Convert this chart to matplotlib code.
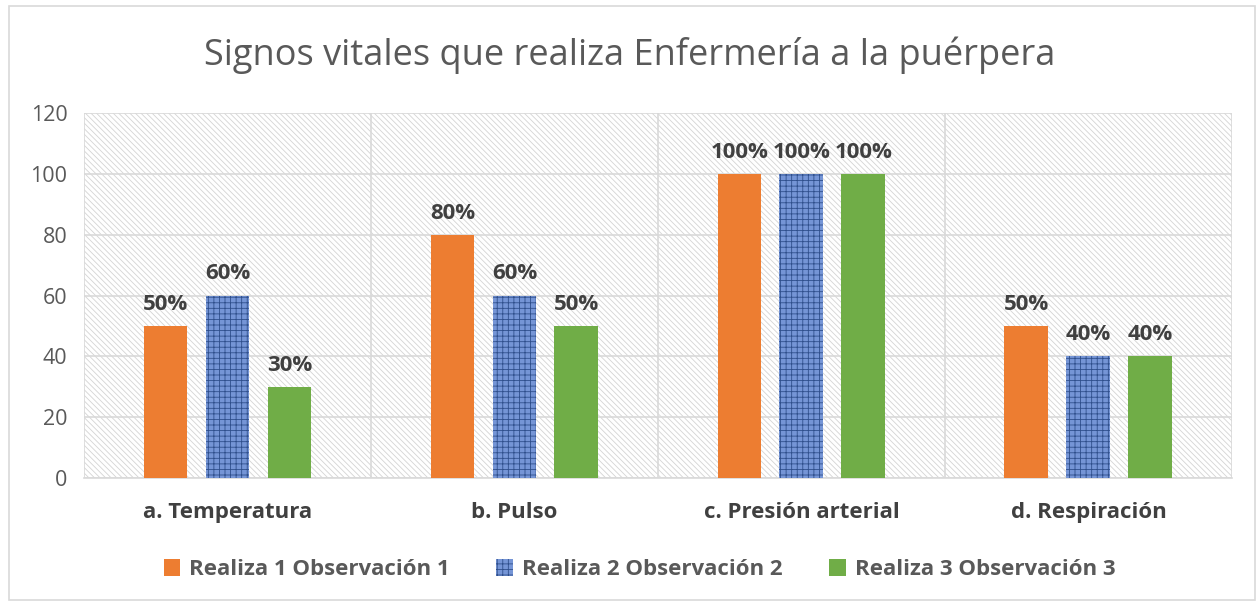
import numpy as np
import matplotlib.pyplot as plt
from matplotlib.patches import Rectangle

plt.rcParams['font.family'] = ['Open Sans', 'DejaVu Sans']
plt.rcParams['hatch.linewidth'] = 0.6

categorias = ['a. Temperatura', 'b. Pulso', 'c. Presión arterial', 'd. Respiración']
series = ['Realiza 1 Observación 1', 'Realiza 2 Observación 2', 'Realiza 3 Observación 3']
obs1 = [50, 80, 100, 50]
obs2 = [60, 60, 100, 40]
obs3 = [30, 50, 100, 40]
yticks = [0, 20, 40, 60, 80, 100, 120]

fig = plt.figure(figsize=(12.59, 6.03), dpi=100)
ax = fig.add_axes([0.0667, 0.2073, 0.9118, 0.6053])

# fondo rayado del área de trazado
ax.patch.set_facecolor('white')
ax.patch.set_hatch('\\\\\\\\\\\\')
ax.patch.set_edgecolor('#d4d4d4')

x = np.arange(len(categorias))
w = 0.153
step = 0.216
estilos = [
    dict(color='#ED7D31'),
    dict(facecolor='#7595D6', hatch='+++', edgecolor='#2F4F8C', linewidth=0),
    dict(color='#70AD47'),
]
for i, (vals, st) in enumerate(zip([obs1, obs2, obs3], estilos)):
    bars = ax.bar(x + (i - 1) * step, vals, w, label=series[i], zorder=3, **st)
    for b, v in zip(bars, vals):
        ax.annotate(f'{v}%', (b.get_x() + b.get_width() / 2, v),
                    xytext=(0, 8), textcoords='offset points',
                    ha='center', va='bottom', fontsize=16, fontweight='bold',
                    color='#404040', zorder=4)

ax.set_xlim(-0.5, len(categorias) - 0.5)
ax.set_ylim(0, 120)
ax.set_yticks(yticks)
ax.set_xticks(x)
ax.set_xticklabels(categorias, fontsize=16, fontweight='bold', color='#404040')
ax.tick_params(axis='y', labelsize=15.5, labelcolor='#595959', length=0, pad=12)
ax.tick_params(axis='x', length=0, pad=17)
ax.set_xticks(np.arange(len(categorias) + 1) - 0.5, minor=True)
ax.tick_params(axis='x', which='minor', length=0)
ax.grid(axis='y', color='#d9d9d9', linewidth=1.2, zorder=1)
ax.grid(axis='x', which='minor', color='#d9d9d9', linewidth=1.2, zorder=1)
ax.grid(axis='x', which='major', visible=False)
for s in ['top', 'right', 'left']:
    ax.spines[s].set_visible(False)
ax.spines['bottom'].set_color('#d9d9d9')
ax.spines['bottom'].set_linewidth(1.2)
ax.set_axisbelow(True)

fig.suptitle('Signos vitales que realiza Enfermería a la puérpera', y=0.94,
             fontsize=26, color='#595959')

leg = fig.legend(loc='center', bbox_to_anchor=(0.508, 0.055), ncol=3, frameon=False,
                 prop={'size': 16, 'weight': 'bold'}, handlelength=0.75, handleheight=0.75,
                 columnspacing=2.1, handletextpad=0.4)
for t in leg.get_texts():
    t.set_color('#595959')

# marco del gráfico
fig.patches.append(Rectangle((0.007, 0.005), 0.99, 0.985, transform=fig.transFigure,
                             fill=False, edgecolor='#d9d9d9', linewidth=1.2))

fig.savefig('out.png', dpi=100)
